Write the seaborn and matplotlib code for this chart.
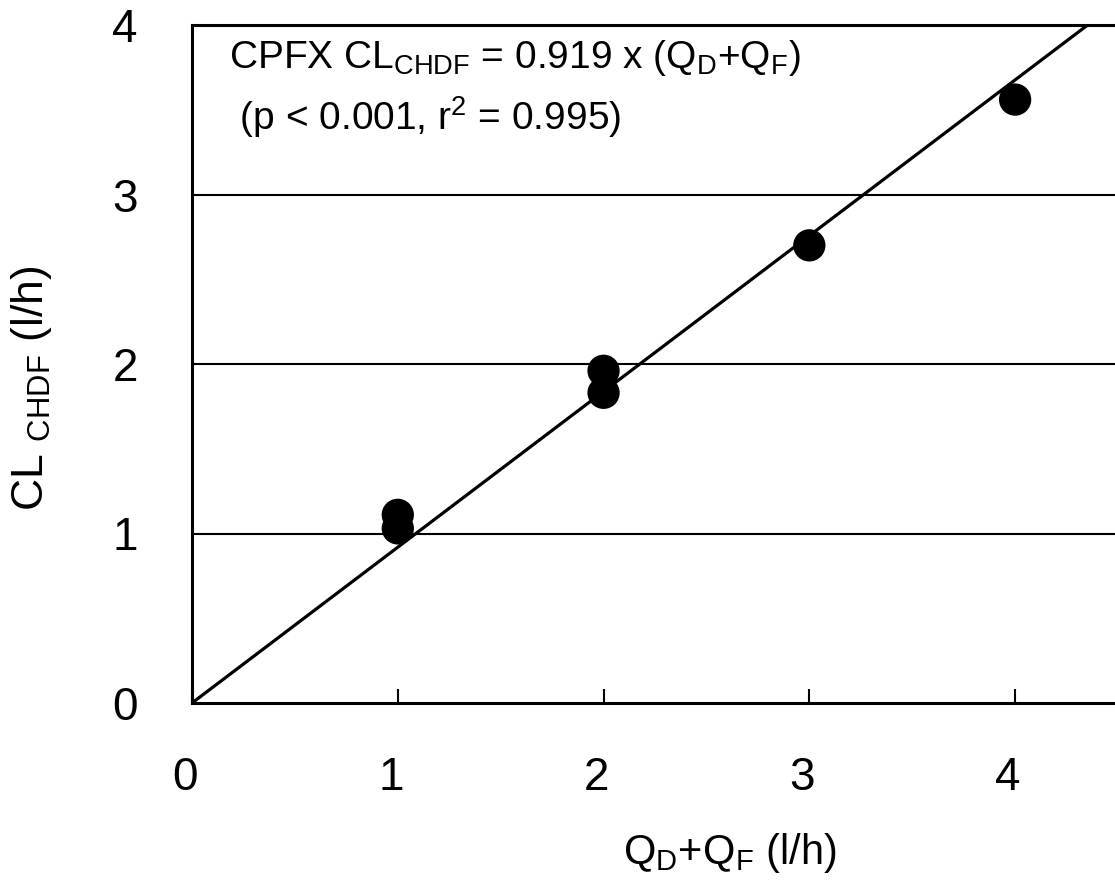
import numpy as np
import pandas as pd
import matplotlib
matplotlib.use('Agg')
import matplotlib.pyplot as plt
import matplotlib.transforms as mtransforms
import seaborn as sns

# 데이터
flow_qd_qf = [1, 1, 2, 2, 3, 4]
cl_chdf = [1.03, 1.11, 1.83, 1.96, 2.70, 3.56]
slope = 0.919
fit_range = [0, 4.5]

sns.set_theme(style='white')
plt.rcParams['font.family'] = ['Liberation Sans', 'DejaVu Sans']
plt.rcParams['mathtext.fontset'] = 'custom'
plt.rcParams['mathtext.rm'] = 'Liberation Sans'
plt.rcParams['mathtext.it'] = 'Liberation Sans'
plt.rcParams['mathtext.default'] = 'regular'
plt.rcParams['text.color'] = 'black'
plt.rcParams['xtick.color'] = 'black'
plt.rcParams['ytick.color'] = 'black'

df = pd.DataFrame({'x': flow_qd_qf, 'y': cl_chdf})
line_x = np.array(fit_range, dtype=float)
fit = pd.DataFrame({'x': line_x, 'y': slope * line_x})

fig = plt.figure(figsize=(11.15, 8.82), dpi=100)
W, H = 1115, 882
ax = fig.add_axes([192 / W, 1 - 703 / H, (1118 - 192) / W, (703 - 25) / H])

# 가로 격자선
for yv in [1, 2, 3]:
    ax.axhline(yv, color='black', linewidth=1.5, zorder=1)

sns.lineplot(data=fit, x='x', y='y', ax=ax, color='black', linewidth=2.3, zorder=2)
sns.scatterplot(data=df, x='x', y='y', ax=ax, color='black', s=540,
                edgecolor='none', zorder=3)

ax.set_xlim(0, 4.5)
ax.set_ylim(0, 4)
ax.set_xticks([0, 1, 2, 3, 4])
ax.set_yticks([0, 1, 2, 3, 4])
ax.set_xlabel('')
ax.set_ylabel('')
ax.tick_params(axis='x', direction='in', length=10, width=1.5, pad=38,
               labelsize=33, color='black', bottom=True)
ax.tick_params(axis='y', length=0, pad=39, labelsize=33)
shift = mtransforms.ScaledTranslation(-7 / 100, 0, fig.dpi_scale_trans)
for lbl in ax.get_xticklabels():
    lbl.set_transform(lbl.get_transform() + shift)
for s in ['left', 'bottom', 'top']:
    ax.spines[s].set_color('black')
    ax.spines[s].set_linewidth(2.2)
ax.spines['right'].set_visible(False)

fig.text(229 / W, 1 - 68 / H, r'CPFX CL$_{CHDF}$ = 0.919 x (Q$_D$+Q$_F$)',
         fontsize=28, va='baseline', ha='left')
fig.text(229 / W, 1 - 130 / H, r' (p < 0.001, r$^2$ = 0.995)',
         fontsize=28, va='baseline', ha='left')

fig.text(730 / W, 1 - 853 / H, r'Q$_D$+Q$_F$ (l/h)', fontsize=30,
         ha='center', va='center')
fig.text(32 / W, 1 - 388 / H, r'CL $_{CHDF}$ (l/h)', fontsize=32,
         ha='center', va='center', rotation=90)

plt.savefig('out.png', dpi=100)
plt.close()
